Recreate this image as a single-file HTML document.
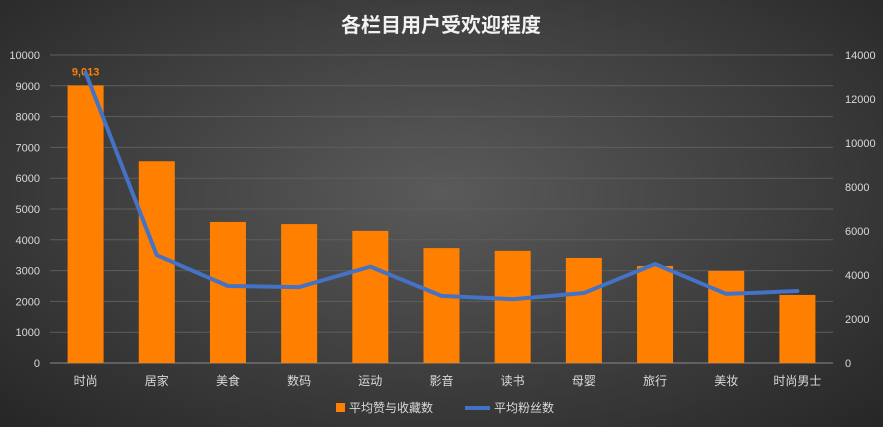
<!DOCTYPE html>
<html><head><meta charset="utf-8"><style>
html,body{margin:0;padding:0;width:883px;height:427px;overflow:hidden}
body{background:radial-gradient(ellipse at 50% 45%,#5a5a5a 0%,#3e3e3e 55%,#262626 100%);font-family:"Liberation Sans","Noto Sans CJK SC",sans-serif}
</style></head><body>
<svg id="c" width="883" height="427" xmlns="http://www.w3.org/2000/svg"></svg>
<script>
const categories=["时尚","居家","美食","数码","运动","影音","读书","母婴","旅行","美妆","时尚男士"];
const barValues=[9013,6550,4580,4510,4290,3730,3640,3410,3150,2990,2210];
const lineValues=[13200,4900,3500,3450,4380,3050,2900,3180,4500,3140,3270];
const leftTicks=[0,1000,2000,3000,4000,5000,6000,7000,8000,9000,10000];
const rightTicks=[0,2000,4000,6000,8000,10000,12000,14000];
const NS="http://www.w3.org/2000/svg";
const svg=document.getElementById('c');
const L=50,R=833,T=55,B=363;
const band=(R-L)/categories.length;
const x=i=>L+band*(i+0.5);
const yL=v=>B-(v/10000)*(B-T);
const yR=v=>B-(v/14000)*(B-T);
function mk(t,a,txt){const e=document.createElementNS(NS,t);for(const k in a)e.setAttribute(k,a[k]);if(txt!==undefined)e.textContent=txt;svg.appendChild(e);return e;}
let e=mk('text',{x:441,y:32,'text-anchor':'middle','font-size':20,'font-weight':'bold',fill:'#f2f2f2'},'各栏目用户受欢迎程度');


leftTicks.forEach(v=>{
 let g=mk('line',{x1:L,x2:R,y1:yL(v),y2:yL(v),stroke:v===0?'#8a8a8a':'#5e5e5e','stroke-width':1});
 
 
 let t=mk('text',{x:40,y:yL(v)+4,'text-anchor':'end','font-size':11,fill:'#d9d9d9'},String(v));
 
 
});
rightTicks.forEach(v=>{
 let t=mk('text',{x:845,y:yR(v)+4,'text-anchor':'start','font-size':11,fill:'#d9d9d9'},String(v));
 
 
});
barValues.forEach((v,i)=>{
 let r=mk('rect',{x:x(i)-18,y:yL(v),width:36,height:B-yL(v),fill:'#ff7f00'});
 
 
 let t=mk('text',{x:x(i),y:385,'text-anchor':'middle','font-size':12,fill:'#d9d9d9'},categories[i]);
 
 
});
let lbl=mk('text',{x:x(0),y:yL(barValues[0])-10,'text-anchor':'middle','font-size':11,'font-weight':'bold',fill:'#ff7f00'},barValues[0].toLocaleString('en-US'));


let p=mk('polyline',{points:lineValues.map((v,i)=>x(i)+','+yR(v)).join(' '),fill:'none',stroke:'#4472c4','stroke-width':4,'stroke-linejoin':'round','stroke-linecap':'round'});


let lg1=mk('rect',{x:336,y:403,width:9,height:9,fill:'#ff7f00'});


let lt1=mk('text',{x:349,y:412,'font-size':12,fill:'#d9d9d9'},'平均赞与收藏数');


let lg2=mk('line',{x1:465,x2:490,y1:408,y2:408,stroke:'#4472c4','stroke-width':4});


let lt2=mk('text',{x:494,y:412,'font-size':12,fill:'#d9d9d9'},'平均粉丝数');


</script>
</body></html>
